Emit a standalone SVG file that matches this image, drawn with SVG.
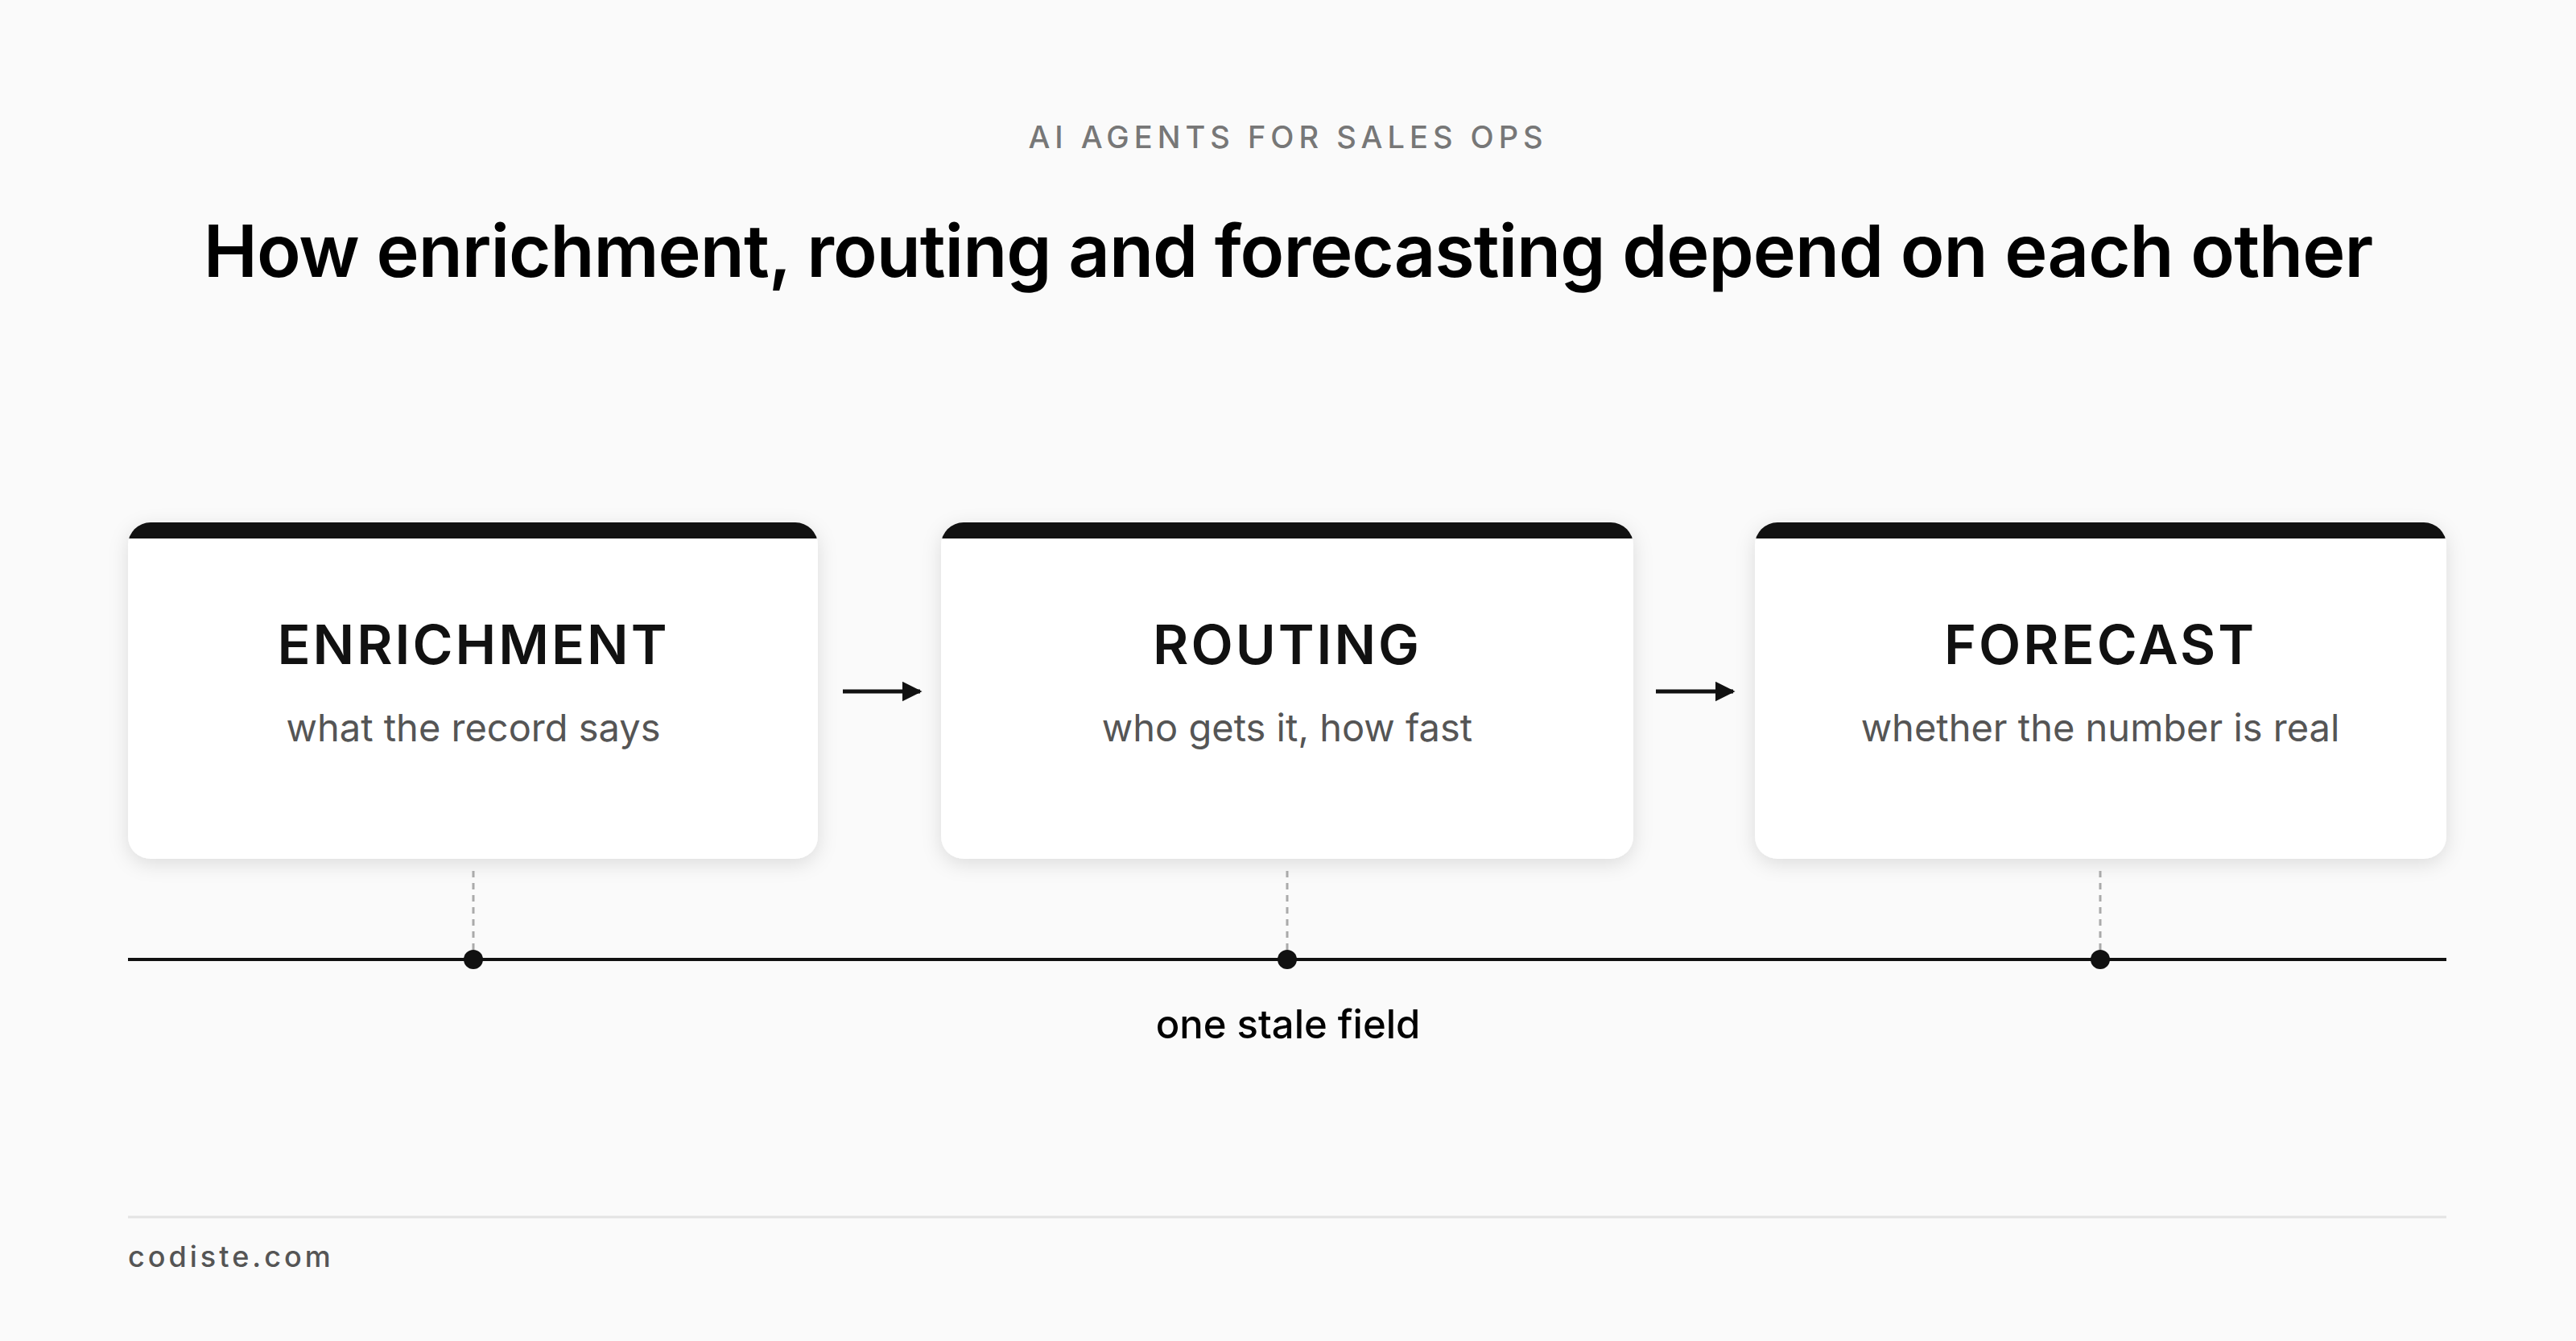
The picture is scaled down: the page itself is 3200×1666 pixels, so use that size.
<svg xmlns="http://www.w3.org/2000/svg" width="3200" height="1666" viewBox="0 0 3200 1666">
<style>
text{font-family:Inter,"Liberation Sans",sans-serif;text-anchor:middle}
.h{font-size:68px;font-weight:600;fill:#111;letter-spacing:3px}
.s{font-size:47px;fill:#555}
.card{fill:#fff}
.dash{stroke:#aaa;stroke-width:3;stroke-dasharray:8 7}
</style>
<defs>
<filter id="sh" x="-10%" y="-10%" width="120%" height="130%"><feDropShadow dx="0" dy="6" stdDeviation="12" flood-color="#000" flood-opacity="0.12"/></filter>
<clipPath id="c1"><rect x="159" y="649" width="857" height="418" rx="28"/></clipPath>
<clipPath id="c2"><rect x="1169" y="649" width="860" height="418" rx="28"/></clipPath>
<clipPath id="c3"><rect x="2180" y="649" width="859" height="418" rx="28"/></clipPath>
<marker id="ar" viewBox="0 0 10 10" refX="9" refY="5" markerWidth="5" markerHeight="5" orient="auto" markerUnits="strokeWidth"><path d="M0 0L10 5L0 10z" fill="#111"/></marker>
</defs>
<rect width="3200" height="1666" fill="#fafafa"/>
<text x="1600" y="184" font-size="38" fill="#777" font-weight="500" letter-spacing="6">AI AGENTS FOR SALES OPS</text>
<text x="1600" y="344" font-size="90" font-weight="600" fill="#000" letter-spacing="-1">How enrichment, routing and forecasting depend on each other</text>
<g id="enrichment">
<rect class="card" x="159" y="649" width="857" height="418" rx="28" filter="url(#sh)"/>
<rect x="159" y="649" width="857" height="20" fill="#111" clip-path="url(#c1)"/>
<text class="h" x="588" y="825">ENRICHMENT</text>
<text class="s" x="588" y="921">what the record says</text>
</g>
<g id="routing">
<rect class="card" x="1169" y="649" width="860" height="418" rx="28" filter="url(#sh)"/>
<rect x="1169" y="649" width="860" height="20" fill="#111" clip-path="url(#c2)"/>
<text class="h" x="1599" y="825">ROUTING</text>
<text class="s" x="1599" y="921">who gets it, how fast</text>
</g>
<g id="forecast">
<rect class="card" x="2180" y="649" width="859" height="418" rx="28" filter="url(#sh)"/>
<rect x="2180" y="649" width="859" height="20" fill="#111" clip-path="url(#c3)"/>
<text class="h" x="2609" y="825">FORECAST</text>
<text class="s" x="2609" y="921">whether the number is real</text>
</g>
<g id="connectors">
<line x1="1047" y1="859" x2="1143" y2="859" stroke="#111" stroke-width="5" marker-end="url(#ar)"/>
<line x1="2057" y1="859" x2="2153" y2="859" stroke="#111" stroke-width="5" marker-end="url(#ar)"/>
<line class="dash" x1="588" y1="1082" x2="588" y2="1184"/>
<line class="dash" x1="1599" y1="1082" x2="1599" y2="1184"/>
<line class="dash" x1="2609" y1="1082" x2="2609" y2="1184"/>
<line x1="159" y1="1192" x2="3039" y2="1192" stroke="#111" stroke-width="4"/>
<circle cx="588" cy="1192" r="12" fill="#111"/>
<circle cx="1599" cy="1192" r="12" fill="#111"/>
<circle cx="2609" cy="1192" r="12" fill="#111"/>
</g>
<text x="1600" y="1290" font-size="49" font-weight="500" fill="#000">one stale field</text>
<line x1="159" y1="1512" x2="3039" y2="1512" stroke="#e3e3e3" stroke-width="3"/>
<text x="159" y="1574" font-size="36" fill="#555" font-weight="500" letter-spacing="4" style="text-anchor:start">codiste.com</text>
</svg>
